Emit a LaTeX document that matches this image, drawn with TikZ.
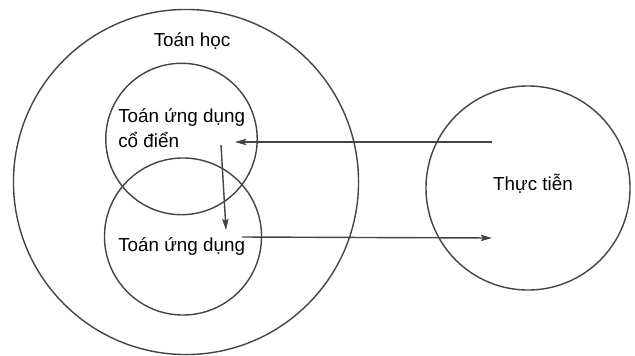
\documentclass[tikz,border=0pt]{standalone}
\usepackage{fontspec}
\setmainfont{Liberation Sans}
\usetikzlibrary{arrows.meta}
\definecolor{linegray}{HTML}{444444}
\tikzset{
  ring/.style={draw=linegray, line width=1pt, circle, inner sep=0pt},
  txt/.style={inner sep=0pt, font=\fontsize{13.4}{18}\selectfont},
  link/.style={draw=linegray, line width=1pt, -{Stealth[length=8pt,width=4.6pt,inset=1.5pt]}}
}
\begin{document}
\begin{tikzpicture}[x=0.025cm, y=-0.025cm]
            \useasboundingbox (0,0) rectangle (635,355);

            % Circles
            \node[ring, minimum size=8.625cm] (math) at (186,182) {};
            \node[ring, minimum size=3.785cm] (classic) at (181.5,139) {};
            \node[ring, minimum size=3.925cm] (applied) at (183,236.5) {};
            \node[ring, minimum size=5.1cm] (real) at (528,188) {};

            % Labels
            \node[txt] (mathtxt) at (192,41) {Toán học};
            \node[txt, anchor=west, align=left] (classictxt) at (118,128) {Toán ứng dụng\\cổ điển};
            \node[txt, anchor=west] (appliedtxt) at (118,247) {Toán ứng dụng};
            \node[txt] (realtxt) at (533,184) {Thực tiễn};

            % Arrow ends
            \coordinate (realout) at (492,142);
            \coordinate (classicin) at (235,142);
            \coordinate (classicout) at (221,145);
            \coordinate (appliedin) at (226,230);
            \coordinate (appliedout) at (242,237);
            \coordinate (realin) at (492,238);

            % Arrows
            \draw[link] (realout) -- (classicin);
            \draw[link] (classicout) -- (appliedin);
            \draw[link] (appliedout) -- (realin);
\end{tikzpicture}
\end{document}
